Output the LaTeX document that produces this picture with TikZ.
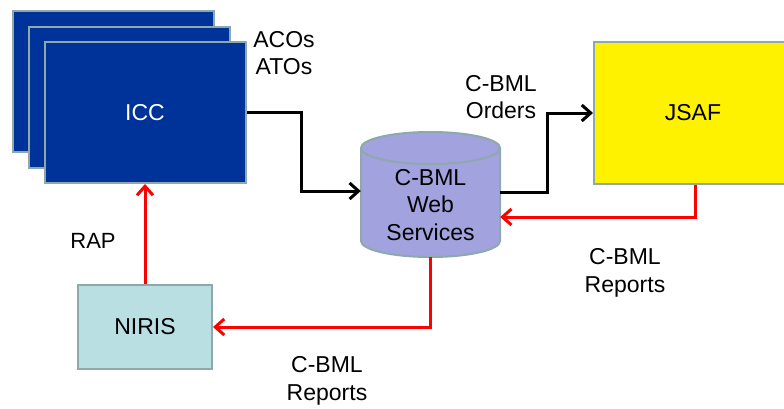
\documentclass[tikz,border=0pt]{standalone}
\usepackage{fontspec}
\setmainfont{Liberation Sans}
\usetikzlibrary{arrows.meta}
\definecolor{edgegray}{RGB}{142,168,172}
\definecolor{iccblue}{RGB}{0,51,153}
\definecolor{dblav}{RGB}{162,162,222}
\definecolor{nirisfill}{RGB}{185,223,227}
\definecolor{arrred}{RGB}{255,0,0}
\begin{document}
\begin{tikzpicture}[x=1pt,y=-1pt,
  txt/.style={font=\fontsize{23}{27.5}\selectfont, align=center, inner sep=0pt},
  box/.style={draw=edgegray, line width=2pt, inner sep=0pt},
  iccbox/.style={box, fill=iccblue, minimum width=201pt, minimum height=141pt},
  blk/.style={draw=black, line width=3pt, -{Straight Barb[length=9pt,width=16pt,line width=3pt]}},
  redl/.style={draw=arrred, line width=3pt, -{Straight Barb[length=9pt,width=16pt,line width=3pt]}}
]
\useasboundingbox (0,0) rectangle (784,408);
% ICC stack
\node[iccbox] (icc1) at (113,81) {};
\node[iccbox] (icc2) at (129,97) {};
\node[iccbox, txt, text=white] (icc) at (145,112.5) {ICC};
% JSAF
\node[box, fill=yellow, minimum width=198pt, minimum height=142pt, txt] (jsaf) at (693,113) {JSAF};
% NIRIS
\node[box, fill=nirisfill, minimum width=134pt, minimum height=84pt, txt] (niris) at (145,327) {NIRIS};
% cylinder
\path[fill=dblav, draw=edgegray, line width=2pt]
  (361,148) -- (361,241) arc[start angle=180,end angle=360,x radius=69.5pt,y radius=16pt]
  -- (500,148) arc[start angle=0,end angle=180,x radius=69.5pt,y radius=16pt] -- cycle;
\draw[edgegray, line width=2pt] (361,148) arc[start angle=180,end angle=360,x radius=69.5pt,y radius=16pt];
\node[minimum width=139pt, minimum height=125pt, inner sep=0pt] (db) at (430.5,194.5) {};
\node[txt] (dbtext) at (430.5,205) {C-BML\\Web\\Services};
% labels
\node[txt] (acos) at (284,53) {ACOs\\ATOs};
\node[txt] (orders) at (501,97) {C-BML\\Orders};
\node[txt, font=\fontsize{22}{26}\selectfont] (rap) at (93,241) {RAP};
\node[txt] (rep1) at (625,273) {C-BML\\Reports};
\node[txt] (rep2) at (327,381) {C-BML\\Reports};
% connectors
\draw[blk] (icc.east) -- ++(55,0) |- ([yshift=3.5pt]db.west);
\draw[blk] ([yshift=2.5pt]db.east) -- ++(47,0) |- (jsaf.west);
\draw[redl] ([xshift=2pt]jsaf.south) |- ([yshift=-22.5pt]db.east);
\draw[redl] (db.south) |- (niris.east);
\draw[redl] (niris.north) -- (icc.south);
\end{tikzpicture}
\end{document}
